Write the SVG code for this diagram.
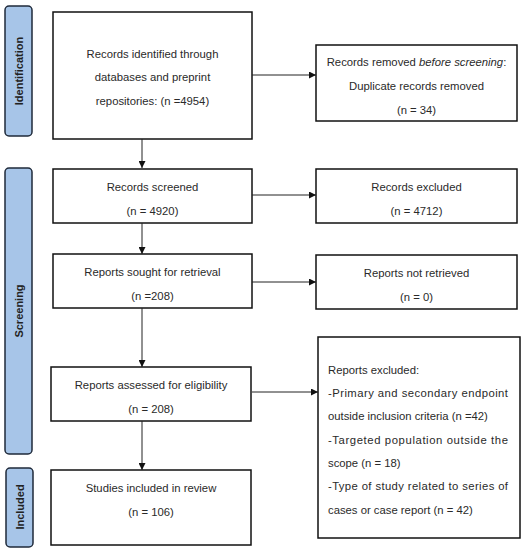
<svg xmlns="http://www.w3.org/2000/svg" width="526" height="550" viewBox="0 0 526 550">
<style>
.bar{fill:#a7c5e8;stroke:#1f2a3a;stroke-width:1.5}
.box{fill:#fff;stroke:#111;stroke-width:1.5}
.t{font-family:"Liberation Sans",Arial,sans-serif;font-size:11.3px;fill:#2a2a2a;text-anchor:middle}
.l{font-family:"Liberation Sans",Arial,sans-serif;font-size:11.3px;fill:#2a2a2a}
.v{font-family:"Liberation Sans",Arial,sans-serif;font-size:11px;font-weight:bold;fill:#222;text-anchor:middle}
.c{stroke:#222;stroke-width:1;fill:none;marker-end:url(#ah)}
</style>
<defs>
<marker id="ah" viewBox="0 0 10 10" refX="10" refY="5" markerWidth="7" markerHeight="7" markerUnits="userSpaceOnUse" orient="auto"><path d="M0,0 L10,5 L0,10 z" fill="#111"/></marker>
</defs>
<rect width="526" height="550" fill="#fff"/>
<g id="phase-identification"><rect class="bar" x="5" y="6" width="27" height="130" rx="4"/><text class="v" transform="translate(22.5,71) rotate(-90)">Identification</text></g>
<g id="phase-screening"><rect class="bar" x="5" y="168" width="27" height="286" rx="4"/><text class="v" transform="translate(22.5,311) rotate(-90)">Screening</text></g>
<g id="phase-included"><rect class="bar" x="6" y="468" width="27" height="79" rx="4"/><text class="v" transform="translate(23.5,507) rotate(-90)">Included</text></g>
<g id="identified"><rect class="box" x="53" y="12" width="199" height="127"/><text class="t" x="152.5" y="58">Records identified through</text><text class="t" x="152.5" y="81">databases and preprint</text><text class="t" x="152.5" y="105">repositories: (n =4954)</text></g>
<g id="removed"><rect class="box" x="316" y="45" width="201" height="76"/><text class="t" x="416.5" y="66">Records removed <tspan font-style="italic">before screening</tspan>:</text><text class="t" x="416.5" y="90">Duplicate records removed</text><text class="t" x="416.5" y="114">(n = 34)</text></g>
<g id="screened"><rect class="box" x="53" y="169" width="199" height="54"/><text class="t" x="152.5" y="191">Records screened</text><text class="t" x="152.5" y="215">(n = 4920)</text></g>
<g id="excluded"><rect class="box" x="316" y="169" width="201" height="54"/><text class="t" x="416.5" y="191">Records excluded</text><text class="t" x="416.5" y="215">(n = 4712)</text></g>
<g id="sought"><rect class="box" x="53" y="254" width="199" height="54"/><text class="t" x="152.5" y="276">Reports sought for retrieval</text><text class="t" x="152.5" y="300">(n =208)</text></g>
<g id="notretrieved"><rect class="box" x="316" y="255" width="201" height="54"/><text class="t" x="416.5" y="277">Reports not retrieved</text><text class="t" x="416.5" y="301">(n = 0)</text></g>
<g id="assessed"><rect class="box" x="51" y="367" width="200" height="54"/><text class="t" x="151" y="389">Reports assessed for eligibility</text><text class="t" x="151" y="413">(n = 208)</text></g>
<g id="included"><rect class="box" x="51" y="470" width="200" height="75"/><text class="t" x="151" y="492">Studies included in review</text><text class="t" x="151" y="516">(n = 106)</text></g>
<g id="reportsexcluded"><rect class="box" x="318" y="337" width="202" height="201"/>
<text class="l" x="328" y="374">Reports excluded:</text>
<text class="l" x="328" y="397" textLength="180" lengthAdjust="spacing">-Primary and secondary endpoint</text>
<text class="l" x="328" y="420">outside inclusion criteria (n =42)</text>
<text class="l" x="328" y="444" textLength="180" lengthAdjust="spacing">-Targeted population outside the</text>
<text class="l" x="328" y="467">scope (n = 18)</text>
<text class="l" x="328" y="490" textLength="180" lengthAdjust="spacing">-Type of study related to series of</text>
<text class="l" x="328" y="514">cases or case report (n = 42)</text></g>
<g id="connectors">
<line class="c" x1="142" y1="139" x2="142" y2="168"/>
<line class="c" x1="252" y1="75" x2="316" y2="75"/>
<line class="c" x1="252" y1="195" x2="316" y2="195"/>
<line class="c" x1="142" y1="223" x2="142" y2="254"/>
<line class="c" x1="252" y1="282" x2="316" y2="282"/>
<line class="c" x1="142" y1="308" x2="142" y2="367"/>
<line class="c" x1="252" y1="392" x2="318" y2="392"/>
<line class="c" x1="142" y1="421" x2="142" y2="470"/>
</g>
</svg>
